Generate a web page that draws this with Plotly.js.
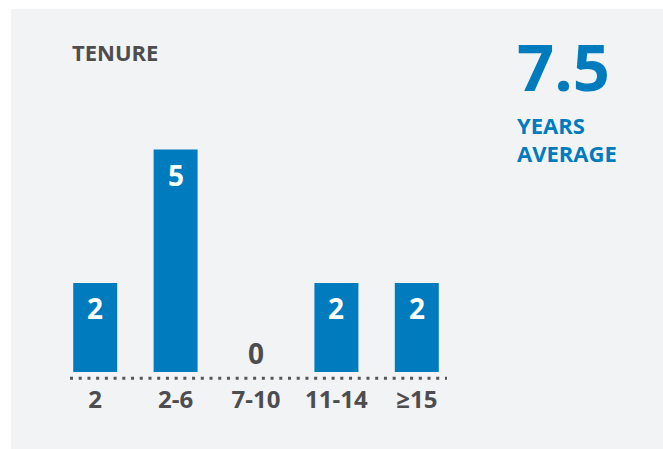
<!DOCTYPE html>
<html>
<head>
<meta charset="utf-8">
<script src="https://cdn.plot.ly/plotly-3.0.1.min.js"></script>
<style>
  html, body { margin: 0; padding: 0; background: #ffffff; }
  #bg { position: absolute; left: 11px; top: 9px; width: 652px; height: 440px; background: #f2f3f5; }
  #chart { position: absolute; left: 0; top: 0; width: 663px; height: 449px; }
</style>
</head>
<body>
<div id="bg"></div>
<div id="chart"></div>
<script>
// Data
const categories = ['2', '2-6', '7-10', '11-14', '≥15'];
const counts = [2, 5, 0, 2, 2];
const chartTitle = 'TENURE';
const averageValue = '7.5';
const averageLabel1 = 'YEARS';
const averageLabel2 = 'AVERAGE';

const BLUE = '#007bbd';
const GRAY = '#4d4d4f';
const FONT = 'Open Sans, Liberation Sans, sans-serif';

const W = 663, H = 449;
const L = 55, R = W - 457, T = 105, B = 77;
const PW = W - L - R, PH = H - T - B;
const px2x = p => (p - L) / PW;
const py2y = p => (H - B - p) / PH;

// category axis: index i is the position of categories[i]
const valueAnnotations = categories.map((c, i) => ({
  x: i, y: counts[i], xref: 'x', yref: 'y',
  text: String(counts[i]), showarrow: false,
  yshift: counts[i] > 0 ? -25 : 19,
  font: { family: FONT, size: 28, weight: 700, color: counts[i] > 0 ? '#ffffff' : GRAY }
}));

const sideAnnotations = [
  { xref: 'paper', yref: 'paper', x: px2x(515), y: py2y(65.5), xanchor: 'left', yanchor: 'middle',
    text: averageValue, showarrow: false, height: 52, valign: 'middle',
    font: { family: FONT, size: 65, weight: 700, color: BLUE } },
  { xref: 'paper', yref: 'paper', x: px2x(515), y: py2y(125), xanchor: 'left', yanchor: 'middle',
    text: averageLabel1, showarrow: false,
    font: { family: FONT, size: 22, weight: 700, color: BLUE } },
  { xref: 'paper', yref: 'paper', x: px2x(515), y: py2y(152.5), xanchor: 'left', yanchor: 'middle',
    text: averageLabel2, showarrow: false,
    font: { family: FONT, size: 22, weight: 700, color: BLUE } }
];

const trace = {
  type: 'bar',
  x: categories,
  y: counts,
  marker: { color: BLUE, line: { width: 0 } },
  hoverinfo: 'skip'
};

const layout = {
  width: W, height: H,
  margin: { l: L, r: R, t: T, b: B, pad: 0 },
  paper_bgcolor: 'rgba(0,0,0,0)',
  plot_bgcolor: 'rgba(0,0,0,0)',
  bargap: 0.453,
  showlegend: false,
  title: {
    text: chartTitle,
    font: { family: FONT, size: 22, weight: 700, color: GRAY },
    xref: 'container', yref: 'container',
    x: 72 / W, xanchor: 'left',
    y: 1 - 53.5 / H, yanchor: 'middle'
  },
  xaxis: {
    type: 'category',
    range: [-0.5, 4.5],
    showgrid: false, zeroline: false, showline: false,
    ticks: '',
    ticklabelstandoff: 11,
    tickfont: { family: FONT, size: 24, weight: 700, color: GRAY },
    fixedrange: true
  },
  yaxis: {
    range: [0, 6],
    showgrid: false, zeroline: false, showline: false,
    showticklabels: false, ticks: '',
    fixedrange: true
  },
  shapes: [
    { type: 'line', xref: 'paper', yref: 'paper',
      x0: px2x(70), x1: px2x(447), y0: py2y(378.3), y1: py2y(378.3),
      line: { color: '#555557', width: 3, dash: '3px,5.72px' } }
  ],
  annotations: valueAnnotations.concat(sideAnnotations)
};

Plotly.newPlot('chart', [trace], layout, { displayModeBar: false, staticPlot: true });
</script>
</body>
</html>
